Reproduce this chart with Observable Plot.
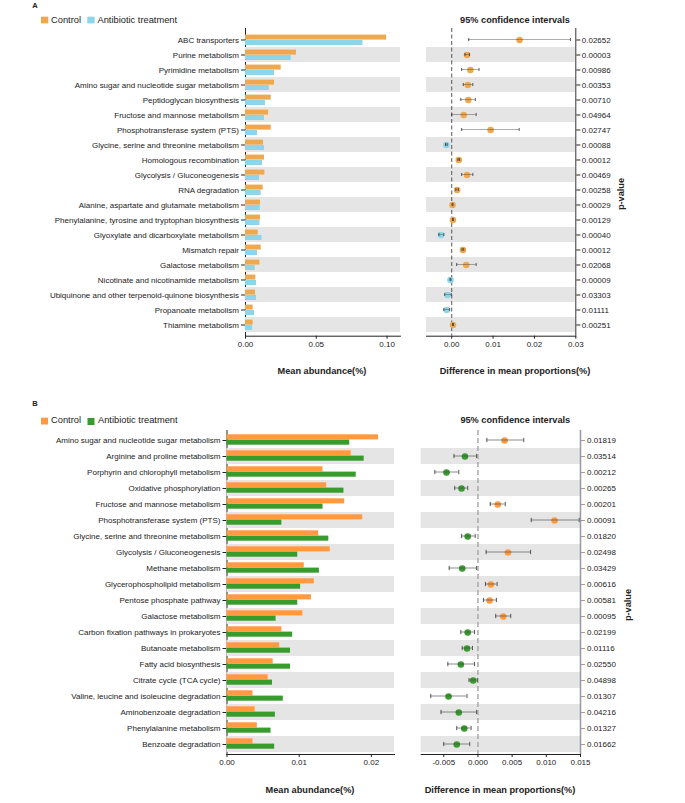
<!DOCTYPE html>
<html>
<head>
<meta charset="utf-8">
<script src="https://cdn.jsdelivr.net/npm/d3@7"></script>
<script src="https://cdn.jsdelivr.net/npm/@observablehq/plot@0.6"></script>
<style>
  body { margin: 0; background: #fff; }
  #wrap { position: relative; width: 685px; height: 803px; font-family: 'Liberation Sans', Arial, sans-serif; }
  .diffB g[aria-label="y-axis tick"] { stroke: #999; }
  .diffB g[aria-label="y-axis"] .tick line { stroke: #999; }
</style>
</head>
<body>
<div id="wrap"></div>
<script>
// ---------------- data ----------------
const groups = ["Control", "Antibiotic treatment"];

const pathwaysA = [
  "ABC transporters", "Purine metabolism", "Pyrimidine metabolism",
  "Amino sugar and nucleotide sugar metabolism", "Peptidoglycan biosynthesis",
  "Fructose and mannose metabolism", "Phosphotransferase system (PTS)",
  "Glycine, serine and threonine metabolism", "Homologous recombination",
  "Glycolysis / Gluconeogenesis", "RNA degradation",
  "Alanine, aspartate and glutamate metabolism",
  "Phenylalanine, tyrosine and tryptophan biosynthesis",
  "Glyoxylate and dicarboxylate metabolism", "Mismatch repair",
  "Galactose metabolism", "Nicotinate and nicotinamide metabolism",
  "Ubiquinone and other terpenoid-quinone biosynthesis",
  "Propanoate metabolism", "Thiamine metabolism"
];
const controlA = [0.0997, 0.0360, 0.0252, 0.0205, 0.0182, 0.0163, 0.0182, 0.0127, 0.0134, 0.0137,
                  0.0125, 0.0106, 0.0106, 0.0090, 0.0111, 0.0102, 0.0073, 0.0071, 0.0054, 0.0054];
const treatA   = [0.0830, 0.0323, 0.0205, 0.0168, 0.0141, 0.0134, 0.0085, 0.0134, 0.0120, 0.0099,
                  0.0111, 0.0104, 0.0102, 0.0116, 0.0085, 0.0068, 0.0078, 0.0078, 0.0064, 0.0050];
const diffA    = [0.0164, 0.0037, 0.0045, 0.0039, 0.0040, 0.0029, 0.0094, -0.0013, 0.0017, 0.0037,
                  0.0013, 0.0002, 0.0003, -0.0026, 0.0027, 0.0035, -0.0003, -0.0010, -0.0012, 0.0003];
const lowerA   = [0.0041, 0.0032, 0.0024, 0.0028, 0.0022, 0.0000, 0.0024, -0.0015, 0.0015, 0.0024,
                  0.0010, 0.0001, 0.0002, -0.0031, 0.0025, 0.0012, -0.0004, -0.0017, -0.0019, 0.0002];
const upperA   = [0.0287, 0.0043, 0.0066, 0.0051, 0.0057, 0.0059, 0.0163, -0.0011, 0.0019, 0.0051,
                  0.0016, 0.0003, 0.0004, -0.0019, 0.0029, 0.0059, -0.0002, -0.0001, -0.0005, 0.0004];
const pvalA = ["0.02652", "0.00003", "0.00986", "0.00353", "0.00710", "0.04964", "0.02747", "0.00088",
               "0.00012", "0.00469", "0.00258", "0.00029", "0.00129", "0.00040", "0.00012", "0.02068",
               "0.00009", "0.03303", "0.01111", "0.00251"];
const barTicksA = [0, 0.05, 0.10];
const barDomainA = [0, 0.1095];
const diffTicksA = [0, 0.01, 0.02, 0.03];
const diffDomainA = [-0.0061, 0.03];

const pathwaysB = [
  "Amino sugar and nucleotide sugar metabolism", "Arginine and proline metabolism",
  "Porphyrin and chlorophyll metabolism", "Oxidative phosphorylation",
  "Fructose and mannose metabolism", "Phosphotransferase system (PTS)",
  "Glycine, serine and threonine metabolism", "Glycolysis / Gluconeogenesis",
  "Methane metabolism", "Glycerophospholipid metabolism", "Pentose phosphate pathway",
  "Galactose metabolism", "Carbon fixation pathways in prokaryotes", "Butanoate metabolism",
  "Fatty acid biosynthesis", "Citrate cycle (TCA cycle)",
  "Valine, leucine and isoleucine degradation", "Aminobenzoate degradation",
  "Phenylalanine metabolism", "Benzoate degradation"
];
const controlB = [0.0210, 0.0172, 0.0133, 0.0138, 0.0163, 0.0188, 0.0127, 0.0143, 0.0107, 0.0121,
                  0.0117, 0.0105, 0.0076, 0.0073, 0.0064, 0.0057, 0.0036, 0.0039, 0.0042, 0.0036];
const treatB   = [0.0170, 0.0190, 0.0179, 0.0162, 0.0133, 0.0076, 0.0141, 0.0098, 0.0128, 0.0102,
                  0.0098, 0.0068, 0.0091, 0.0088, 0.0088, 0.0063, 0.0078, 0.0067, 0.0061, 0.0066];
const diffB    = [0.0039, -0.0019, -0.0046, -0.0024, 0.0029, 0.0112, -0.0015, 0.0044, -0.0023, 0.0019,
                  0.0017, 0.0037, -0.0015, -0.0016, -0.0025, -0.0007, -0.0043, -0.0028, -0.0020, -0.0031];
const lowerB   = [0.0013, -0.0035, -0.0063, -0.0034, 0.0018, 0.0078, -0.0024, 0.0012, -0.0042, 0.0011,
                  0.0008, 0.0026, -0.0025, -0.0023, -0.0044, -0.0013, -0.0069, -0.0054, -0.0031, -0.0050];
const upperB   = [0.0067, -0.0002, -0.0028, -0.0015, 0.0040, 0.0148, -0.0004, 0.0077, -0.0002, 0.0028,
                  0.0027, 0.0048, -0.0005, -0.0008, -0.0005, -0.0001, -0.0016, -0.0002, -0.0010, -0.0012];
const pvalB = ["0.01819", "0.03514", "0.00212", "0.00265", "0.00201", "0.00091", "0.01820", "0.02498",
               "0.03429", "0.00616", "0.00581", "0.00095", "0.02199", "0.01116", "0.02550", "0.04898",
               "0.01307", "0.04216", "0.01327", "0.01662"];
const barTicksB = [0, 0.01, 0.02];
const barDomainB = [0, 0.0232];
const diffTicksB = [-0.005, 0, 0.005, 0.010, 0.015];
const diffDomainB = [-0.0083, 0.015];

// ---------------- drawing ----------------
const wrap = document.getElementById("wrap");
const FONT = "'Liberation Sans', Arial, sans-serif";
const baseStyle = {fontFamily: FONT, fontSize: "8px", color: "#222", background: "none", overflow: "visible"};

function place(el, left, top, cls) {
  el.style.position = "absolute";
  el.style.left = left + "px";
  el.style.top = top + "px";
  if (cls) el.classList.add(cls);
  wrap.appendChild(el);
}

function barPanel(o) {
  const rows = o.pathways.map((p, i) => ({path: p, control: o.control[i], treat: o.treat[i]}));
  const stripes = o.pathways.filter((p, i) => i % 2 === 1);
  const bw = o.plotH / o.pathways.length;
  const svg = Plot.plot({
    width: o.width, height: o.mt + o.plotH + o.mb,
    marginLeft: o.ml, marginRight: o.width - o.ml - o.plotW, marginTop: o.mt, marginBottom: o.mb,
    style: baseStyle,
    x: {domain: o.domain, ticks: o.ticks, tickFormat: d => d.toFixed(2), tickSize: 3, tickPadding: 2.3, line: true, label: null},
    y: {domain: o.pathways, padding: 0, tickSize: 4, tickPadding: 2.5, line: true, label: null},
    color: {domain: groups, range: o.colors},
    marks: [
      Plot.cell(stripes, {y: d => d, fill: "#e5e5e5"}),
      Plot.barX(rows, {y: "path", x: "control", fill: () => "Control",
        insetTop: o.cTop, insetBottom: bw - o.cTop - o.barH}),
      Plot.barX(rows, {y: "path", x: "treat", fill: () => "Antibiotic treatment",
        insetTop: o.tTop, insetBottom: bw - o.tTop - o.barH})
    ]
  });
  place(svg, 0, o.top);
}

function diffPanel(o) {
  const rows = o.pathways.map((p, i) => ({path: p, diff: o.diff[i], lower: o.lower[i], upper: o.upper[i]}));
  const stripes = o.pathways.filter((p, i) => i % 2 === 1);
  const bw = o.plotH / o.pathways.length;
  const cap = (bw - o.capH) / 2;
  const svg = Plot.plot({
    width: 285, height: o.mt + o.plotH + o.mb,
    marginLeft: o.ml, marginRight: 285 - o.ml - o.plotW, marginTop: o.mt, marginBottom: o.mb,
    style: baseStyle,
    x: {domain: o.domain, ticks: o.ticks, tickFormat: o.fmt, tickSize: 3, tickPadding: 2.3, line: true, label: null},
    y: {domain: o.pathways, padding: 0, axis: "right", tickSize: 4, tickPadding: o.ytp, label: null,
        tickFormat: d => o.pvals[o.pathways.indexOf(d)]},
    color: {domain: groups, range: o.colors},
    marks: [
      Plot.cell(stripes, {y: d => d, fill: "#e5e5e5"}),
      Plot.ruleX([0], {stroke: o.zeroStroke, strokeWidth: o.zeroWidth, strokeDasharray: o.zeroDash}),
      Plot.ruleX([o.domain[1]], {stroke: o.axisStroke, strokeWidth: o.axisWidth}),
      Plot.dot(rows, {y: "path", x: "diff", r: 3.3, stroke: null,
        fill: d => d.diff > 0 ? "Control" : "Antibiotic treatment"}),
      Plot.barX(rows, {y: "path", x1: "lower", x2: "upper", fill: "#444", fillOpacity: 0.85,
        insetTop: (bw - 0.9) / 2, insetBottom: (bw - 0.9) / 2}),
      Plot.tickX(rows, {y: "path", x: "lower", stroke: "#444", strokeWidth: 0.9, insetTop: cap, insetBottom: cap}),
      Plot.tickX(rows, {y: "path", x: "upper", stroke: "#444", strokeWidth: 0.9, insetTop: cap, insetBottom: cap})
    ]
  });
  place(svg, 400, o.top, o.cls);
}

const colorsA = ["#EEA94F", "#8DD5EA"];
const colorsB = ["#FF9A40", "#389B2E"];

barPanel({pathways: pathwaysA, control: controlA, treat: treatA, colors: colorsA,
  domain: barDomainA, ticks: barTicksA, width: 400, ml: 245, plotW: 155,
  top: 20, mt: 8, plotH: 307.7, mb: 24, cTop: 2.6, tTop: 8.0, barH: 5.4});
diffPanel({pathways: pathwaysA, diff: diffA, lower: lowerA, upper: upperA, pvals: pvalA, colors: colorsA,
  domain: diffDomainA, ticks: diffTicksA, fmt: d => d.toFixed(2), ml: 26, plotW: 149.3, ytp: 2,
  top: 20, mt: 8, plotH: 307.7, mb: 24, capH: 3.5,
  zeroStroke: "#555", zeroWidth: 1, zeroDash: "4,2.5", axisStroke: "#333", axisWidth: 1});

barPanel({pathways: pathwaysB, control: controlB, treat: treatB, colors: colorsB,
  domain: barDomainB, ticks: barTicksB, width: 394, ml: 226.5, plotW: 167.5,
  top: 422, mt: 8, plotH: 324, mb: 24, cTop: 2.3, tTop: 7.6, barH: 5.3});
diffPanel({pathways: pathwaysB, diff: diffB, lower: lowerB, upper: upperB, pvals: pvalB, colors: colorsB,
  domain: diffDomainB, ticks: diffTicksB, fmt: d => d.toFixed(3), ml: 20.7, plotW: 159.3, ytp: 2.5,
  top: 422, mt: 8, plotH: 324, mb: 24, capH: 4.5, cls: "diffB",
  zeroStroke: "#aaa", zeroWidth: 1.5, zeroDash: "5,3", axisStroke: "#999", axisWidth: 1.5});

// ---------------- text overlay ----------------
const ns = "http://www.w3.org/2000/svg";
const over = document.createElementNS(ns, "svg");
over.setAttribute("width", 685);
over.setAttribute("height", 803);
over.style.position = "absolute";
over.style.left = "0px";
over.style.top = "0px";
over.style.fontFamily = FONT;
wrap.appendChild(over);

function txt(s, x, y, size, opts = {}) {
  const t = document.createElementNS(ns, "text");
  t.textContent = s;
  t.setAttribute("x", x);
  t.setAttribute("y", y);
  t.setAttribute("font-size", size);
  t.setAttribute("fill", "#222");
  if (opts.bold) t.setAttribute("font-weight", "bold");
  if (opts.anchor) t.setAttribute("text-anchor", opts.anchor);
  if (opts.rotate) t.setAttribute("transform", `rotate(-90 ${x} ${y})`);
  over.appendChild(t);
}
function sq(x, y, w, h, fill) {
  const r = document.createElementNS(ns, "rect");
  r.setAttribute("x", x); r.setAttribute("y", y);
  r.setAttribute("width", w); r.setAttribute("height", h);
  r.setAttribute("fill", fill);
  over.appendChild(r);
}

// Panel A
txt("A", 32.3, 7.8, 7.5, {bold: true});
sq(41, 16.7, 7.3, 6.7, colorsA[0]);
txt(groups[0], 51, 22.6, 9.3);
sq(87.3, 16.7, 7.3, 6.7, colorsA[1]);
txt(groups[1], 97.5, 22.6, 9.3);
txt("95% confidence intervals", 515, 22.5, 9.2, {bold: true, anchor: "middle"});
txt("Mean abundance(%)", 322, 374.3, 9.2, {bold: true, anchor: "middle"});
txt("Difference in mean proportions(%)", 515, 374.3, 9.2, {bold: true, anchor: "middle"});
txt("p-value", 623.5, 194, 9.2, {bold: true, anchor: "middle", rotate: true});

// Panel B
txt("B", 32.3, 405.7, 7.5, {bold: true});
sq(41, 417.7, 7, 6.8, colorsB[0]);
txt(groups[0], 51, 423.3, 9.3);
sq(87.5, 418, 7, 7, colorsB[1]);
txt(groups[1], 98, 423.3, 9.3);
txt("95% confidence intervals", 515.3, 423.3, 9.2, {bold: true, anchor: "middle"});
txt("Mean abundance(%)", 310, 792.6, 9.2, {bold: true, anchor: "middle"});
txt("Difference in mean proportions(%)", 500, 792.6, 9.2, {bold: true, anchor: "middle"});
txt("p-value", 631, 605, 9.2, {bold: true, anchor: "middle", rotate: true});
</script>
</body>
</html>
